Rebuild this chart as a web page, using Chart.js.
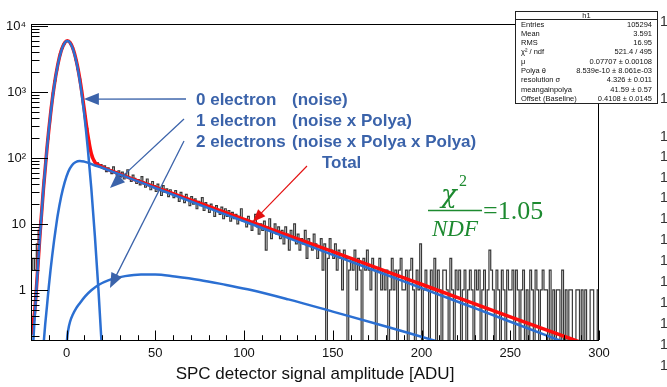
<!DOCTYPE html>
<html>
<head>
<meta charset="utf-8">
<script src="https://cdn.jsdelivr.net/npm/chart.js@4.4.1/dist/chart.umd.min.js"></script>
<style>
  html, body { margin: 0; padding: 0; background: #fff; }
  canvas { display: block; }
</style>
</head>
<body>
<canvas id="spcChart" width="667" height="387"></canvas>
<script>
// SPC detector amplitude spectrum, 1 ADU bins from -20 to 300
const binStart = -20;
const binWidth = 1;
const counts = [
    2, 3, 2, 5, 8, 11, 24, 47, 98, 192,
    352, 590, 971, 1468, 2140, 2890, 3762, 4560, 5290, 5720,
    5940, 5810, 5330, 4660, 3820, 3000, 2200, 1570, 1045, 695,
    432, 280, 181, 132, 101, 91, 81, 84, 74, 79,
    70, 76, 62, 71, 66, 58, 73, 61, 55, 64,
    52, 61, 48, 57, 66, 50, 44, 55, 49, 41,
    47, 39, 52, 43, 36, 48, 40, 33, 44, 38,
    31, 40, 35, 27, 38, 30, 34, 26, 33, 29,
    25, 32, 27, 22, 30, 26, 21, 28, 24, 19,
    26, 20, 24, 17, 22, 19, 25, 16, 21, 18,
    15, 20, 17, 13, 19, 16, 14, 18, 12, 17,
    13, 16, 11, 15, 12, 14, 10, 13, 17, 11,
    12, 9, 13, 10, 8, 11, 14, 9, 7, 10,
    8, 11, 4, 9, 12, 6, 8, 10, 7, 9,
    6, 8, 5, 9, 7, 4, 8, 6, 10, 5,
    7, 4, 6, 5, 8, 3, 6, 5, 4, 7,
    5, 3, 4, 6, 2, 5, 0, 3, 6, 4,
    3, 5, 2, 4, 3, 1, 4, 3, 0, 2,
    3, 2, 4, 1, 3, 2, 0, 3, 2, 4,
    2, 1, 3, 2, 0, 2, 3, 1, 2, 1,
    2, 0, 1, 3, 1, 2, 0, 2, 3, 1,
    1, 2, 0, 2, 3, 1, 0, 2, 1, 5,
    0, 1, 2, 1, 0, 2, 1, 3, 0, 2,
    1, 0, 2, 2, 1, 0, 3, 1, 0, 2,
    1, 2, 0, 1, 2, 0, 1, 2, 1, 0,
    2, 1, 2, 0, 1, 2, 0, 1, 4, 2,
    1, 0, 2, 1, 0, 2, 1, 0, 2, 1,
    1, 2, 0, 2, 1, 0, 1, 2, 0, 1,
    0, 2, 1, 0, 2, 1, 0, 1, 2, 1,
    1, 0, 2, 0, 1, 0, 1, 1, 0, 2,
    0, 1, 0, 1, 1, 0, 0, 1, 1, 0,
    1, 0, 1, 0, 0, 1, 1, 0, 0, 1
];

// fit components
const noiseX = [-19, -17, -15, -13, -11, -9, -7, -5, -3, -1, 0.5, 2, 4, 6, 8, 10, 12, 14, 16, 18, 20];
const noiseY = [0.12, 1.0, 6.5, 34, 139, 457, 1200, 2500, 4170, 5530, 5900, 5530, 4170, 2500, 1200, 457, 139, 34, 6.5, 1.0, 0.12];

const onePeX = [-13, -12, -11, -10, -9, -8, -7, -6, -5, -3, -1, 1, 3, 5, 7.5, 10, 12, 15, 20, 25, 35, 53, 80, 109, 150, 190, 230, 276, 300];
const onePeY = [0.14, 0.3, 0.57, 1.1, 2.0, 3.4, 5.6, 8.7, 13.3, 26, 43, 62, 77, 86, 90, 88, 85, 79, 71, 63, 50, 32.7, 17.4, 8.9, 3.4, 1.35, 0.53, 0.18, 0.105];

const twoPeX = [0, 0.3, 1, 2, 3.5, 5.5, 7.5, 10.5, 14, 18, 23.5, 33, 42, 50, 61, 75, 90, 104, 125, 150, 180, 206, 230];
const twoPeY = [0.12, 0.175, 0.25, 0.33, 0.42, 0.53, 0.63, 0.8, 0.99, 1.19, 1.4, 1.62, 1.72, 1.72, 1.6, 1.42, 1.19, 1.0, 0.72, 0.47, 0.28, 0.175, 0.11];

const totalX = [-20, -19, -18, -17, -15, -13, -11, -9, -7, -5, -3, -1, 0.5, 2, 4, 6, 8, 10, 12, 14, 16, 18, 20, 30, 50, 75, 104, 150, 200, 250, 286, 300];
const totalY = [0.21, 0.3, 0.45, 1.0, 6.6, 34, 140, 459, 1206, 2513, 4200, 5575, 5950, 5595, 4250, 2590, 1292, 545, 224, 116, 86, 78, 73, 57, 36, 20.6, 10.7, 3.8, 1.22, 0.39, 0.175, 0.127];

const xMajorTicks = [0, 50, 100, 150, 200, 250, 300];
const yMajorTicks = [1, 10, 100, 1000, 10000];
const yTickLabels = ['1', '10', '10²', '10³', '10⁴'];

const statLabels = ['Entries', 'Mean', 'RMS', 'χ² / ndf', 'μ', 'Polya θ', 'resolution σ', 'meangainpolya', 'Offset (Baseline)'];
const statValues = ['105294', '3.591', '16.95', '521.4 / 495', '0.07707 ± 0.00108', '8.539e-10 ± 8.061e-03', '4.326 ± 0.011', '41.59 ± 0.57', '0.4108 ± 0.0145'];

const legendLines = [
    ['0 electron', '(noise)'],
    ['1 electron', '(noise x Polya)'],
    ['2 electrons', '(noise x Polya x Polya)']
];
// arrow tips sit on the curves, in data units
const arrowTips = [{x: 9.8, y: 780}, {x: 24.5, y: 35}, {x: 24.5, y: 1.07}];
const totalTip = {x: 104.9, y: 10.7};

const SANS = "'Liberation Sans', Arial, Helvetica, sans-serif";
const SERIF = "'Liberation Serif', 'Times New Roman', serif";
const Y_MIN = 0.1745, Y_MAX = 10700;
const Y_FLOOR = 0.05; // empty bins drop to the frame bottom

const pts = (xs, ys) => xs.map((x, i) => ({x: x, y: ys[i]}));
const histPoints = counts.map((c, i) => ({
    x: binStart + (i + 0.5) * binWidth,
    y: c > 0 ? c : Y_FLOOR
}));

function curve(label, data, color, width) {
    return {
        label: label,
        data: data,
        borderColor: color,
        borderWidth: width,
        pointRadius: 0,
        fill: false,
        cubicInterpolationMode: 'monotone'
    };
}

function drawArrow(ctx, x0, y0, x1, y1, color, width, headLen, headW) {
    const a = Math.atan2(y1 - y0, x1 - x0);
    const c = Math.cos(a), s = Math.sin(a);
    ctx.strokeStyle = color;
    ctx.fillStyle = color;
    ctx.lineWidth = width;
    ctx.beginPath();
    ctx.moveTo(x0, y0);
    ctx.lineTo(x1 - headLen * 0.7 * c, y1 - headLen * 0.7 * s);
    ctx.stroke();
    ctx.beginPath();
    ctx.moveTo(x1, y1);
    ctx.lineTo(x1 - headLen * c + headW * s, y1 - headLen * s - headW * c);
    ctx.lineTo(x1 - headLen * c - headW * s, y1 - headLen * s + headW * c);
    ctx.closePath();
    ctx.fill();
}

const rootFrame = {
    id: 'rootFrame',
    afterDatasetsDraw(chart) {
        const {ctx, chartArea: area, scales: {x, y}} = chart;
        ctx.save();
        ctx.strokeStyle = '#000';
        ctx.lineWidth = 1;
        ctx.strokeRect(area.left + 0.5, area.top + 0.5, area.right - area.left - 1, area.bottom - area.top);

        // ticks point inwards, ROOT style
        ctx.beginPath();
        for (let v = -10; v <= 300; v += 10) {
            const px = Math.round(x.getPixelForValue(v)) + 0.5;
            const len = v % 50 === 0 ? 9.5 : 4.8;
            ctx.moveTo(px, area.bottom);
            ctx.lineTo(px, area.bottom - len);
        }
        for (let e = -1; e <= 4; e++) {
            for (let m = 1; m <= 9; m++) {
                const v = m * Math.pow(10, e);
                if (v < Y_MIN || v > Y_MAX) continue;
                const py = Math.round(y.getPixelForValue(v)) + 0.5;
                const len = m === 1 ? 17 : 8.5;
                ctx.moveTo(area.left, py);
                ctx.lineTo(area.left + len, py);
            }
        }
        ctx.stroke();

        // legend text with arrows
        const blue = '#3b63aa';
        ctx.fillStyle = blue;
        ctx.font = 'bold 17px ' + SANS;
        ctx.textBaseline = 'middle';
        ctx.textAlign = 'left';
        legendLines.forEach((parts, i) => {
            const ty = 100 + i * 21;
            ctx.fillText(parts[0], 196, ty);
            ctx.fillText(parts[1], 292, ty);
        });
        ctx.fillText('Total', 322, 163);
        const tails = [[186, 99], [184, 119], [184, 141]];
        arrowTips.forEach((t, i) => {
            drawArrow(ctx, tails[i][0], tails[i][1], x.getPixelForValue(t.x), y.getPixelForValue(t.y), blue, 1.3, 15, 6);
        });
        drawArrow(ctx, 307, 166, x.getPixelForValue(totalTip.x), y.getPixelForValue(totalTip.y), '#e31010', 1.1, 13, 5);

        // chi2 / NDF
        const green = '#1d8a30';
        ctx.fillStyle = green;
        ctx.strokeStyle = green;
        ctx.textAlign = 'center';
        ctx.textBaseline = 'alphabetic';
        ctx.font = "italic 26px 'DejaVu Serif', serif";
        ctx.fillText('χ', 449, 203);
        ctx.font = '16px ' + SERIF;
        ctx.fillText('2', 463, 186);
        ctx.lineWidth = 1.5;
        ctx.beginPath();
        ctx.moveTo(428, 210.5);
        ctx.lineTo(482, 210.5);
        ctx.stroke();
        ctx.font = 'italic 23px ' + SERIF;
        ctx.fillText('NDF', 455, 236);
        ctx.textAlign = 'left';
        ctx.font = '26px ' + SERIF;
        ctx.fillText('=1.05', 483, 219);
        ctx.restore();
    },
    afterDraw(chart) {
        const {ctx} = chart;
        ctx.save();
        // stats box
        const bx = 515.5, by = 11.5, bw = 142, bh = 92;
        ctx.fillStyle = '#fff';
        ctx.fillRect(bx, by, bw, bh);
        ctx.strokeStyle = '#222';
        ctx.lineWidth = 1;
        ctx.strokeRect(bx, by, bw, bh);
        ctx.beginPath();
        ctx.moveTo(bx, 19.5);
        ctx.lineTo(bx + bw, 19.5);
        ctx.stroke();
        ctx.fillStyle = '#111';
        ctx.font = '7.5px ' + SANS;
        ctx.textBaseline = 'middle';
        ctx.textAlign = 'center';
        ctx.fillText('h1', bx + bw / 2, 15.7);
        statLabels.forEach((lab, i) => {
            const ry = 24.5 + i * 9.3;
            ctx.textAlign = 'left';
            ctx.fillText(lab, 521, ry);
            ctx.textAlign = 'right';
            ctx.fillText(statValues[i], 652, ry);
        });
        // cut-off slide text at the right edge
        ctx.fillStyle = '#333';
        ctx.font = '14px ' + SANS;
        ctx.textAlign = 'left';
        [22, 99, 137, 157, 178, 198, 219, 240, 261, 282, 303, 324, 345, 366].forEach(ty => {
            ctx.fillText('1', 660, ty);
        });
        ctx.restore();
    }
};

const ctx = document.getElementById('spcChart').getContext('2d');
new Chart(ctx, {
    type: 'line',
    data: {
        datasets: [
            curve('0 electron', pts(noiseX, noiseY), '#2b6fd2', 2.5),
            curve('1 electron', pts(onePeX, onePeY), '#2b6fd2', 2.5),
            curve('2 electrons', pts(twoPeX, twoPeY), '#2b6fd2', 2.5),
            curve('Total', pts(totalX, totalY), '#ff0d0d', 3.5),
            {
                label: 'Data',
                data: histPoints,
                stepped: 'middle',
                borderColor: '#383838',
                borderWidth: 1.2,
                pointRadius: 0,
                fill: false
            }
        ]
    },
    options: {
        responsive: false,
        animation: false,
        events: [],
        layout: { padding: { top: 24, right: 68, left: 0, bottom: 0 } },
        elements: { line: { capBezierPoints: false } },
        plugins: { legend: { display: false }, tooltip: { enabled: false } },
        scales: {
            x: {
                type: 'linear',
                min: -20,
                max: 300,
                grid: { display: false, drawTicks: false },
                border: { display: false },
                afterBuildTicks: s => { s.ticks = xMajorTicks.map(v => ({value: v})); },
                afterFit: s => { s.height = 47; },
                ticks: {
                    autoSkip: false,
                    maxRotation: 0,
                    padding: 6,
                    color: '#111',
                    font: { family: SANS, size: 13 }
                },
                title: {
                    display: true,
                    text: 'SPC detector signal amplitude [ADU]',
                    color: '#111',
                    font: { family: SANS, size: 17 },
                    padding: { top: 0, bottom: 2 }
                }
            },
            y: {
                type: 'logarithmic',
                min: Y_MIN,
                max: Y_MAX,
                grid: { display: false, drawTicks: false },
                border: { display: false },
                afterBuildTicks: s => { s.ticks = yMajorTicks.map(v => ({value: v, major: true})); },
                afterFit: s => { s.width = 31; },
                ticks: {
                    autoSkip: false,
                    padding: 5,
                    color: '#111',
                    font: { family: SANS, size: 13 },
                    callback: v => yTickLabels[yMajorTicks.indexOf(v)]
                }
            }
        }
    },
    plugins: [rootFrame]
});
</script>
</body>
</html>
